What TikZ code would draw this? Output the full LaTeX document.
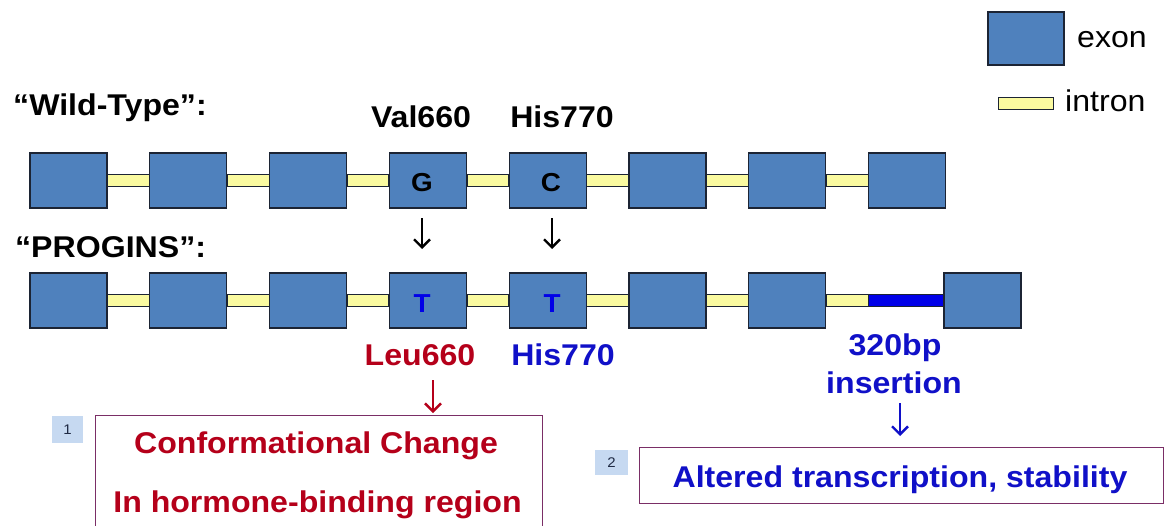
\documentclass[tikz,border=0pt]{standalone}
\usepackage{fontspec}
\setmainfont[FakeStretch=1.07]{Liberation Sans}
\usetikzlibrary{calc,arrows.meta}
\definecolor{exonblue}{HTML}{4F81BD}
\definecolor{exonedge}{HTML}{1C2434}
\definecolor{intronyellow}{HTML}{FAFAA0}
\definecolor{insblue}{HTML}{0000E8}
\definecolor{txtred}{HTML}{B5001A}
\definecolor{txtblue}{HTML}{1010C8}
\definecolor{boxedge}{HTML}{7A2E66}
\definecolor{numfill}{HTML}{C6D9F1}
\definecolor{numtxt}{HTML}{1F2A44}
\begin{document}
\begin{tikzpicture}[x=1pt,y=-1pt,
  exon/.style={draw=exonedge, fill=exonblue, line width=1.2pt, minimum width=77pt, minimum height=55pt, inner sep=0pt},
  intronbar/.style={draw=exonedge, fill=intronyellow, line width=1pt},
  insbar/.style={draw=exonedge, fill=insblue, line width=1pt},
  lbl/.style={font=\fontsize{30}{36}\selectfont\bfseries, inner sep=0pt, anchor=base},
  inlbl/.style={font=\fontsize{26}{30}\selectfont\bfseries, inner sep=0pt, anchor=base},
  efftxt/.style={font=\fontsize{30}{36}\selectfont\bfseries, inner sep=0pt, anchor=base},
  legtxt/.style={font=\fontsize{30}{36}\selectfont, inner sep=0pt, anchor=base west},
  effbox/.style={draw=boxedge, line width=1.2pt, fill=white, inner sep=0pt, anchor=north west},
  numbox/.style={fill=numfill, text=numtxt, font=\fontsize{14}{16}\selectfont, inner sep=0pt},
  arr/.style={line width=2.4pt, -{Straight Barb[length=8pt,width=16pt,line width=2.4pt]}}
]
\useasboundingbox[fill=white] (0,0) rectangle (1169,525);

% legend
\node[exon, minimum width=76pt, minimum height=53pt] (lex) at (1026,38.5) {};
\node[legtxt] (lexT) at (1077,47) {exon};
\draw[intronbar] (998,97) rectangle (1053,109);
\node[legtxt] (linT) at (1065,111) {intron};

% titles
\node[lbl, anchor=base west] (wt) at (13,115) {“Wild-Type”:};
\node[lbl, anchor=base west] (pg) at (15,257) {“PROGINS”:};

% wild-type row
\foreach \i/\x in {1/68.5,2/188.3,3/308.1,4/427.9,5/547.7,6/667.5,7/787.3,8/907.1}{
  \node[exon] (w\i) at (\x,180.5) {};
}
\foreach \a/\b in {1/2,2/3,3/4,4/5,5/6,6/7,7/8}{
  \draw[intronbar] ($(w\a.east)+(0,-6.5)$) rectangle ($(w\b.west)+(0,6)$);
}
% PROGINS row
\foreach \i/\x in {1/68.5,2/188.3,3/308.1,4/427.9,5/547.7,6/667.5,7/787.3,8/982.5}{
  \node[exon] (p\i) at (\x,300.5) {};
}
\foreach \a/\b in {1/2,2/3,3/4,4/5,5/6,6/7}{
  \draw[intronbar] ($(p\a.east)+(0,-6.5)$) rectangle ($(p\b.west)+(0,6)$);
}
\coordinate (insL) at (868,294);
\draw[intronbar] ($(p7.east)+(0,-6.5)$) rectangle (868,306);
\draw[insbar] (insL) rectangle ($(p8.west)+(0,6)$);

% letters in exons
\node[inlbl] (g) at (422,191) {G};
\node[inlbl] (c) at (551,191) {C};
\node[inlbl, text=insblue] (t1) at (422,312) {T};
\node[inlbl, text=insblue] (t2) at (552,312) {T};

% labels
\node[lbl] (val) at (421,127) {Val660};
\node[lbl] (his) at (562,127) {His770};
\node[lbl, text=txtred] (leu) at (420,365) {Leu660};
\node[lbl, text=txtblue] (his2) at (563,365) {His770};
\node[lbl, text=txtblue] (bp) at (895,355) {320bp};
\node[lbl, text=txtblue] (ins) at (894,393) {insertion};

% arrows
\coordinate (a1s) at (422,218); \coordinate (a1e) at (422,249);
\coordinate (a2s) at (552,218); \coordinate (a2e) at (552,249);
\draw[arr] (a1s) -- (a1e);
\draw[arr] (a2s) -- (a2e);

% effect boxes
\node[effbox, minimum width=447pt, minimum height=118pt] (b1) at (95,415) {};
\node[efftxt, text=txtred] (b1a) at (316,453) {Conformational Change};
\node[efftxt, text=txtred] (b1b) at (317.5,512) {In hormone-binding region};
\node[effbox, minimum width=524pt, minimum height=56pt] (b2) at (639,447) {};
\node[efftxt, text=txtblue] (b2a) at (900,487) {Altered transcription, stability};

\coordinate (ra) at (433,380); \coordinate (rb) at (433,413);
\draw[arr, draw=txtred] (ra) -- (rb);
\coordinate (ba) at (900,403); \coordinate (bb) at (900,436);
\draw[arr, draw=txtblue] (ba) -- (bb);

\node[numbox, minimum width=31pt, minimum height=27pt] (n1) at (67.5,429.5) {1};
\node[numbox, minimum width=33pt, minimum height=25pt] (n2) at (611.5,462.5) {2};
\end{tikzpicture}
\end{document}
